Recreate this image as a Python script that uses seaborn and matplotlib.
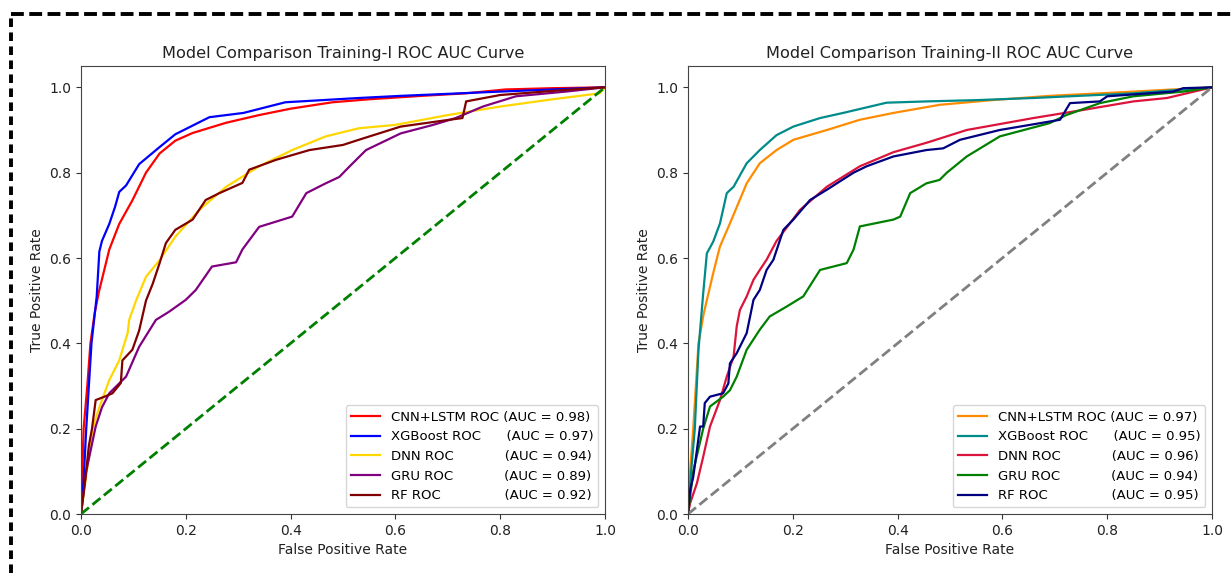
import matplotlib
matplotlib.use("Agg")
import matplotlib.pyplot as plt
from matplotlib.lines import Line2D
import seaborn as sns

# ---- data ----
models = ["CNN+LSTM ROC", "XGBoost ROC", "DNN ROC", "GRU ROC", "RF ROC"]
chance = [0.0, 1.0]

# Training-I
auc_1 = [0.98, 0.97, 0.94, 0.89, 0.92]
colors_1 = ["red", "blue", "gold", "purple", "maroon"]

cnn_fpr_1 = [0, 0.003, 0.005, 0.012, 0.018, 0.026, 0.034, 0.041, 0.054, 0.073, 0.098, 0.124,
             0.15, 0.18, 0.213, 0.277, 0.34, 0.40, 0.48, 0.55, 0.65, 0.735, 0.81, 0.9, 1.0]
cnn_tpr_1 = [0, 0.12, 0.2, 0.3, 0.4, 0.47, 0.52, 0.555, 0.62, 0.68, 0.735, 0.80,
             0.845, 0.875, 0.893, 0.917, 0.935, 0.95, 0.965, 0.972, 0.98, 0.986, 0.995, 0.998, 1.0]

xgb_fpr_1 = [0, 0.005, 0.01, 0.02, 0.03, 0.035, 0.04, 0.054, 0.065, 0.073, 0.086, 0.111,
             0.15, 0.18, 0.245, 0.31, 0.39, 0.53, 0.61, 0.80, 0.9, 1.0]
xgb_tpr_1 = [0, 0.08, 0.2, 0.4, 0.51, 0.615, 0.64, 0.68, 0.72, 0.755, 0.77, 0.82,
             0.86, 0.89, 0.93, 0.94, 0.965, 0.975, 0.98, 0.99, 0.995, 1.0]

dnn_fpr_1 = [0, 0.01, 0.022, 0.035, 0.054, 0.073, 0.089, 0.092, 0.105, 0.124, 0.15, 0.18,
             0.226, 0.277, 0.34, 0.403, 0.467, 0.53, 0.60, 0.70, 0.80, 0.9, 0.99, 1.0]
dnn_tpr_1 = [0, 0.09, 0.2, 0.25, 0.314, 0.36, 0.424, 0.455, 0.50, 0.556, 0.595, 0.65,
             0.713, 0.767, 0.815, 0.853, 0.885, 0.904, 0.912, 0.935, 0.955, 0.972, 0.986, 1.0]

gru_fpr_1 = [0, 0.01, 0.028, 0.04, 0.054, 0.086, 0.111, 0.143, 0.168, 0.20, 0.219, 0.25,
             0.296, 0.308, 0.34, 0.403, 0.43, 0.467, 0.493, 0.512, 0.544, 0.61, 0.672,
             0.715, 0.767, 0.83, 0.925, 1.0]
gru_tpr_1 = [0, 0.1, 0.205, 0.25, 0.283, 0.322, 0.392, 0.455, 0.474, 0.502, 0.525, 0.58,
             0.59, 0.62, 0.673, 0.697, 0.752, 0.775, 0.79, 0.814, 0.853, 0.892, 0.912,
             0.928, 0.955, 0.979, 0.99, 1.0]

rf_fpr_1 = [0, 0.008, 0.015, 0.021, 0.028, 0.045, 0.06, 0.076, 0.079, 0.098, 0.111, 0.124,
            0.137, 0.15, 0.162, 0.18, 0.213, 0.238, 0.264, 0.308, 0.321, 0.372, 0.436, 0.5,
            0.53, 0.61, 0.703, 0.728, 0.735, 0.80, 0.925, 1.0]
rf_tpr_1 = [0, 0.08, 0.16, 0.2, 0.267, 0.275, 0.283, 0.307, 0.36, 0.385, 0.43, 0.50,
            0.54, 0.588, 0.635, 0.666, 0.69, 0.736, 0.752, 0.776, 0.807, 0.83, 0.853, 0.865,
            0.877, 0.908, 0.924, 0.928, 0.967, 0.982, 0.994, 1.0]

# Training-II
auc_2 = [0.97, 0.95, 0.96, 0.94, 0.95]
colors_2 = ["darkorange", "darkcyan", "crimson", "green", "navy"]

cnn_fpr_2 = [0, 0.004, 0.01, 0.02, 0.03, 0.039, 0.048, 0.061, 0.08, 0.112, 0.137, 0.169,
             0.201, 0.265, 0.328, 0.392, 0.48, 0.58, 0.69, 0.85, 1.0]
cnn_tpr_2 = [0, 0.1, 0.2, 0.4, 0.47, 0.517, 0.564, 0.627, 0.681, 0.775, 0.822, 0.853,
             0.877, 0.90, 0.924, 0.94, 0.959, 0.97, 0.98, 0.99, 1.0]

xgb_fpr_2 = [0, 0.006, 0.013, 0.02, 0.029, 0.036, 0.048, 0.061, 0.074, 0.087, 0.112, 0.137,
             0.169, 0.201, 0.252, 0.296, 0.379, 0.455, 0.55, 0.659, 0.85, 1.0]
xgb_tpr_2 = [0, 0.1, 0.2, 0.385, 0.517, 0.611, 0.638, 0.681, 0.752, 0.767, 0.822, 0.853,
             0.888, 0.908, 0.928, 0.94, 0.964, 0.967, 0.97, 0.975, 0.986, 1.0]

dnn_fpr_2 = [0, 0.004, 0.017, 0.029, 0.042, 0.061, 0.074, 0.087, 0.093, 0.099, 0.112, 0.125,
             0.137, 0.15, 0.169, 0.214, 0.265, 0.328, 0.392, 0.455, 0.532, 0.659, 0.754,
             0.85, 0.914, 1.0]
dnn_tpr_2 = [0, 0.025, 0.072, 0.134, 0.205, 0.267, 0.322, 0.369, 0.44, 0.478, 0.51, 0.549,
             0.572, 0.596, 0.64, 0.713, 0.767, 0.815, 0.848, 0.87, 0.90, 0.928, 0.947,
             0.967, 0.975, 1.0]

gru_fpr_2 = [0, 0.01, 0.029, 0.042, 0.067, 0.08, 0.093, 0.112, 0.137, 0.156, 0.188, 0.22,
             0.252, 0.303, 0.316, 0.328, 0.392, 0.405, 0.424, 0.455, 0.48, 0.494, 0.532,
             0.595, 0.69, 0.722, 0.786, 0.85, 0.945, 1.0]
gru_tpr_2 = [0, 0.1, 0.2, 0.252, 0.275, 0.29, 0.322, 0.385, 0.432, 0.463, 0.486, 0.51,
             0.572, 0.588, 0.62, 0.674, 0.69, 0.697, 0.752, 0.775, 0.783, 0.80, 0.838,
             0.885, 0.916, 0.935, 0.963, 0.979, 0.99, 1.0]

rf_fpr_2 = [0, 0.004, 0.01, 0.017, 0.023, 0.029, 0.032, 0.042, 0.067, 0.077, 0.08, 0.093,
            0.112, 0.125, 0.137, 0.15, 0.163, 0.182, 0.201, 0.233, 0.265, 0.316, 0.341,
            0.392, 0.455, 0.487, 0.519, 0.595, 0.71, 0.729, 0.786, 0.80, 0.926, 0.945, 1.0]
rf_tpr_2 = [0, 0.056, 0.087, 0.15, 0.205, 0.205, 0.26, 0.275, 0.283, 0.306, 0.353, 0.377,
            0.424, 0.502, 0.525, 0.572, 0.596, 0.666, 0.69, 0.736, 0.76, 0.80, 0.815,
            0.838, 0.853, 0.857, 0.877, 0.90, 0.924, 0.963, 0.967, 0.979, 0.99, 0.998, 1.0]

curves_1 = [(cnn_fpr_1, cnn_tpr_1), (xgb_fpr_1, xgb_tpr_1), (dnn_fpr_1, dnn_tpr_1),
            (gru_fpr_1, gru_tpr_1), (rf_fpr_1, rf_tpr_1)]
curves_2 = [(cnn_fpr_2, cnn_tpr_2), (xgb_fpr_2, xgb_tpr_2), (dnn_fpr_2, dnn_tpr_2),
            (gru_fpr_2, gru_tpr_2), (rf_fpr_2, rf_tpr_2)]

# spaces so the "(AUC = ..)" parts roughly line up in the legend
pads = [1, 6, 12, 12, 15]

W, H = 1231, 573
fig = plt.figure(figsize=(W / 100, H / 100), dpi=100)
ax1 = fig.add_axes([81 / W, 59 / H, 524 / W, 448 / H])
ax2 = fig.add_axes([688 / W, 59 / H, 524 / W, 448 / H])


def draw(ax, curves, aucs, colors, diag_color, title):
    for (fpr, tpr), name, auc, c, p in zip(curves, models, aucs, colors, pads):
        sns.lineplot(x=fpr, y=tpr, ax=ax, color=c, linewidth=1.6, sort=False,
                     estimator=None, label=f"{name}{' ' * p}(AUC = {auc:.2f})")
    sns.lineplot(x=chance, y=chance, ax=ax, color=diag_color, linewidth=2,
                 linestyle="--", sort=False, estimator=None)
    ax.set_xlim(0.0, 1.0)
    ax.set_ylim(0.0, 1.05)
    ax.set_xlabel("False Positive Rate", color="#222222")
    ax.set_ylabel("True Positive Rate", color="#222222")
    ax.set_title(title, fontsize=11.6, color="#222222")
    ax.tick_params(colors="#333333", labelcolor="#222222")
    ax.legend(loc="lower right", fontsize=9.5, handlelength=2.2)
    for s in ax.spines.values():
        s.set_color("#444444")


draw(ax1, curves_1, auc_1, colors_1, "green", "Model Comparison Training-I ROC AUC Curve")
draw(ax2, curves_2, auc_2, colors_2, "gray", "Model Comparison Training-II ROC AUC Curve")

# dashed frame around the figure (top and left edges visible)
y_top = 1 - 14 / H
x_left = 11 / W
fig.add_artist(Line2D([x_left, 1.0], [y_top, y_top], transform=fig.transFigure,
                      color="black", linewidth=2.8, dashes=(3.3, 1.4)))
fig.add_artist(Line2D([x_left, x_left], [0.0, y_top], transform=fig.transFigure,
                      color="black", linewidth=2.8, dashes=(2.2, 1.4)))

fig.savefig("out.png", dpi=100)
